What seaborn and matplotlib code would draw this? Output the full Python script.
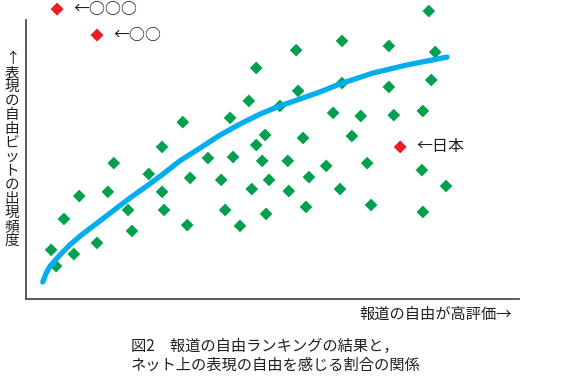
import pandas as pd
import seaborn as sns
import matplotlib.pyplot as plt

# press freedom score (x) vs share of "free expression" bits online (y), 0-100 scale
green_x = [5.1, 6.1, 7.7, 9.7, 10.8, 14.4, 16.6, 17.8, 20.7, 21.5, 24.9, 27.6, 27.6, 28.0,
           31.8, 32.7, 33.3, 36.9, 39.6, 40.4, 41.4, 42.0, 43.4, 45.2, 45.8, 46.7, 46.7,
           47.9, 48.5, 48.7, 49.3, 51.5, 53.1, 53.3, 54.8, 55.2, 56.2, 56.8, 57.4, 60.9,
           62.3, 63.7, 64.1, 64.1, 66.1, 67.9, 69.2, 70.0, 73.6, 73.6, 74.6, 80.3, 80.5,
           80.5, 81.7, 82.2, 83.0, 85.2]
green_y = [17.6, 11.8, 28.7, 16.1, 36.9, 20.1, 38.4, 48.7, 31.9, 24.4, 44.8, 54.5, 38.4, 31.9,
           63.4, 26.5, 43.4, 50.5, 42.7, 31.9, 64.9, 50.9, 26.2, 71.0, 39.4, 82.8, 55.2,
           49.5, 58.8, 30.5, 42.7, 69.2, 49.5, 38.7, 89.2, 74.6, 57.7, 33.0, 43.7, 47.7,
           66.7, 39.4, 92.5, 77.4, 58.4, 65.6, 48.7, 33.7, 90.7, 76.0, 65.9, 46.2, 67.4,
           31.2, 103.2, 78.5, 88.5, 40.5]

red_labels = ["←○○○", "←○○", "←日本"]
red_x = [6.3, 14.4, 75.9]
red_y = [103.9, 94.6, 54.5]

# trend curve
trend_x = [3.4, 4.1, 4.9, 6.9, 8.9, 11.0, 15.0, 17.6, 21.1, 24.5, 27.8, 31.2, 35.3,
           39.4, 43.4, 47.5, 51.5, 55.6, 59.6, 63.7, 70.4, 77.3, 85.4]
trend_y = [6.1, 9.3, 11.8, 15.8, 19.4, 22.6, 28.0, 31.5, 36.2, 40.5, 44.8, 49.5, 54.1,
           58.8, 62.7, 66.3, 69.2, 71.7, 74.2, 77.1, 81.0, 83.9, 86.7]

ylabel = "↑表現の自由ビットの出現頻度"
xlabel = "報道の自由が高評価→"
caption = "図2　報道の自由ランキングの結果と，\nネット上の表現の自由を感じる割合の関係"

sns.set_theme(style="white")
plt.rcParams['font.family'] = ['Noto Sans CJK JP', 'DejaVu Sans']

green = pd.DataFrame({"x": green_x, "y": green_y})
red = pd.DataFrame({"x": red_x, "y": red_y, "label": red_labels})
trend = pd.DataFrame({"x": trend_x, "y": trend_y})

W, H = 567, 379
fig = plt.figure(figsize=(W / 100, H / 100), dpi=100)
ax = fig.add_axes([26 / W, 80 / H, 493 / W, 299 / H])

sns.scatterplot(data=green, x="x", y="y", marker="D", s=42, color="#00a04e",
                edgecolor="none", ax=ax, zorder=3)
sns.lineplot(data=trend, x="x", y="y", sort=False, color="#00aeef", linewidth=3.8,
             ax=ax, zorder=4)
sns.scatterplot(data=red, x="x", y="y", marker="D", s=44, color="#ed1c24",
                edgecolor="none", ax=ax, zorder=5)
for _, r in red.iterrows():
    ax.annotate(r["label"], (r["x"], r["y"]), xytext=(12, 0), textcoords="offset points",
                va="center", ha="left", fontsize=11.5, color="#231f20")

ax.set_xlim(0, 100)
ax.set_ylim(0, 299 / 2.79)
ax.set_xticks([])
ax.set_yticks([])
ax.set_xlabel("")
ax.set_ylabel("")
ax.set_facecolor("none")
for side in ["top", "right"]:
    ax.spines[side].set_visible(False)
for side in ["left", "bottom"]:
    ax.spines[side].set_color("#4d4d4d")
    ax.spines[side].set_linewidth(1.3)
ax.spines["left"].set_bounds(0, 100)

fig.text(12 / W, 1 - 150 / H, "\n".join(ylabel), ha="center", va="center",
         fontsize=10.5, linespacing=1.0, color="#231f20")
fig.text(512 / W, 1 - 314 / H, xlabel, ha="right", va="center", fontsize=11,
         color="#231f20")
fig.text(131 / W, 1 - 356 / H, caption, ha="left", va="center", fontsize=11,
         linespacing=1.15, color="#231f20")

fig.savefig("out.png", dpi=100)
